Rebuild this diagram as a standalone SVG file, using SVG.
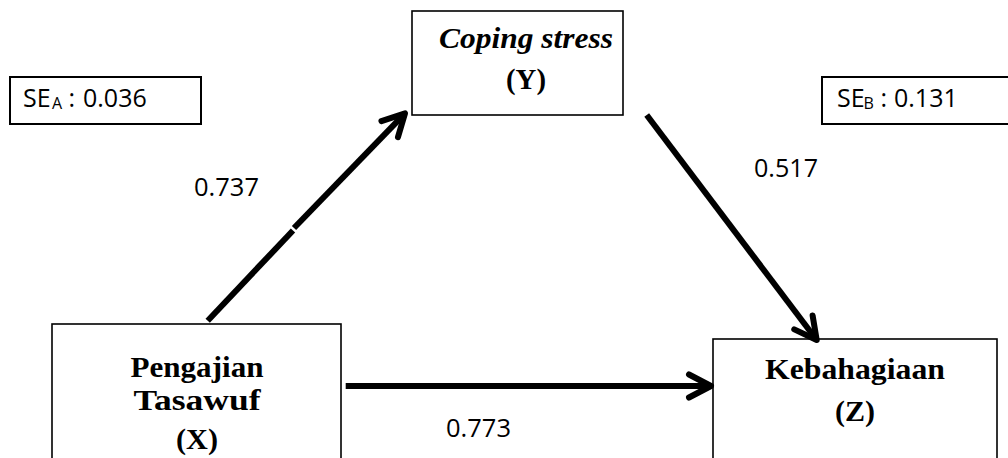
<svg xmlns="http://www.w3.org/2000/svg" width="1008" height="458" viewBox="0 0 1008 458">
<style>
.box{fill:#fff;stroke:#000;stroke-width:1.6}
.sebox{fill:#fff;stroke:#000;stroke-width:2}
.t{font-family:"Liberation Serif","Times New Roman",serif;font-weight:bold;font-size:30px;fill:#000;text-anchor:middle}
.n{font-family:"Open Sans","Liberation Sans",sans-serif;font-size:25px;fill:#000}
.sub{font-size:16px}
.c{stroke:#000;stroke-width:6;fill:none}
</style>
<defs>
<marker id="chev" markerUnits="userSpaceOnUse" viewBox="-30 -16 34 32" refX="0" refY="0" markerWidth="34" markerHeight="32" orient="auto" overflow="visible">
<path d="M -22 -11.5 L 0 0 L -22 11.5" fill="none" stroke="#000" stroke-width="6" stroke-linecap="round" stroke-linejoin="round"/>
</marker>
</defs>
<rect width="1008" height="458" fill="#fff"/>
<g id="se-a">
<rect class="sebox" x="10" y="77" width="191" height="47"/>
<text class="n" y="107"><tspan x="23">SE</tspan><tspan class="sub" x="52" y="109">A</tspan><tspan x="68.5" y="107">:</tspan><tspan x="83">0.036</tspan></text>
</g>
<g id="se-b">
<rect class="sebox" x="822" y="77" width="200" height="47"/>
<text class="n" y="107"><tspan x="837">SE</tspan><tspan class="sub" x="863.5" y="109">B</tspan><tspan x="880.5" y="107">:</tspan><tspan x="894">0.131</tspan></text>
</g>
<g id="node-y">
<rect class="box" x="412" y="11" width="211" height="104"/>
<text class="t" x="526" y="48" font-style="italic" textLength="174" lengthAdjust="spacingAndGlyphs">Coping stress</text>
<text class="t" x="526" y="89" textLength="40" lengthAdjust="spacingAndGlyphs">(Y)</text>
</g>
<g id="node-x">
<rect class="box" x="52" y="324" width="289" height="150"/>
<text class="t" x="197" y="377" textLength="133" lengthAdjust="spacingAndGlyphs">Pengajian</text>
<text class="t" x="197" y="410" textLength="127" lengthAdjust="spacingAndGlyphs">Tasawuf</text>
<text class="t" x="197" y="449" textLength="42" lengthAdjust="spacingAndGlyphs">(X)</text>
</g>
<g id="node-z">
<rect class="box" x="713" y="339" width="284" height="140"/>
<text class="t" x="855" y="379" textLength="180" lengthAdjust="spacingAndGlyphs">Kebahagiaan</text>
<text class="t" x="855" y="421" textLength="40" lengthAdjust="spacingAndGlyphs">(Z)</text>
</g>
<g id="connectors">
<line class="c" x1="207.7" y1="320.7" x2="293" y2="230.5"/>
<line class="c" x1="294" y1="228" x2="405" y2="113.3" marker-end="url(#chev)"/>
<line class="c" x1="646.7" y1="115" x2="816.7" y2="340" marker-end="url(#chev)"/>
<line class="c" x1="345.7" y1="386" x2="711" y2="386" marker-end="url(#chev)"/>
</g>
<g id="labels">
<text class="n" x="194" y="196" textLength="65" lengthAdjust="spacingAndGlyphs">0.737</text>
<text class="n" x="754" y="177" textLength="64" lengthAdjust="spacingAndGlyphs">0.517</text>
<text class="n" x="446" y="437" textLength="65" lengthAdjust="spacingAndGlyphs">0.773</text>
</g>
</svg>
